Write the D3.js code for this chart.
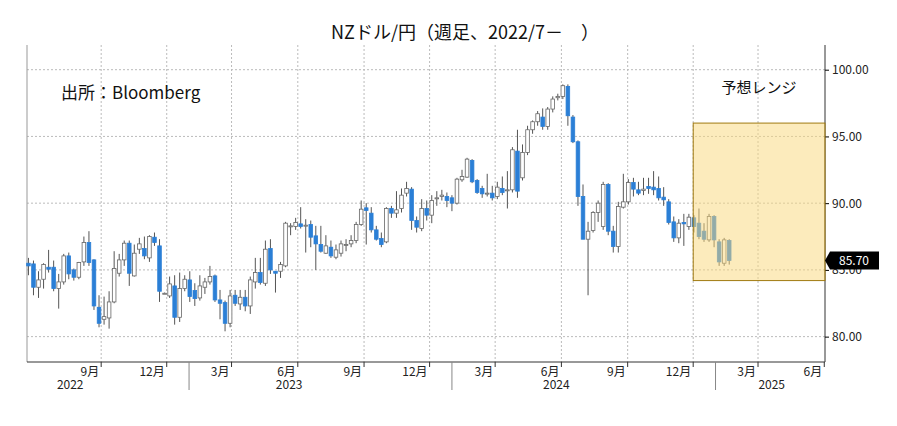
<!DOCTYPE html>
<html><head><meta charset="utf-8">
<script src="https://d3js.org/d3.v7.min.js"></script>
<style>body{margin:0;background:#fff}text{font-family:"Noto Sans CJK JP","Noto Sans",sans-serif}</style>
</head><body><svg id="c" width="897" height="426"></svg>
<script>
const firstWeek = "2022-05-23";
// weekly candles [open, high, low, close]
const candles = [
[85.5,85.9,84.6,85.3],[85.45,85.7,83.1,83.7],[83.7,84.9,82.9,84.25],[84.3,85.5,83.6,85.4],[85.2,86.5,84.8,85.05],
[85.2,85.7,83.4,83.6],[83.6,84.7,82.1,84.1],[84.1,86.2,83.9,86.05],[86.05,86.3,84.3,84.7],[85.0,85.1,84.2,84.45],
[84.45,85.6,84.3,85.55],[85.6,87.5,85.3,87.05],[87.05,87.9,85.3,85.55],[85.75,85.8,82.0,82.3],[82.2,83.1,80.7,81.0],
[81.3,83.0,80.9,81.5],[81.4,83.4,80.6,82.6],[82.6,86.4,82.5,85.1],[84.75,86.2,84.5,85.75],[85.75,87.2,85.3,87.0],
[87.0,87.2,83.8,84.75],[84.55,86.9,84.5,86.25],[86.55,87.4,86.2,86.95],[86.6,87.5,85.8,86.05],[85.9,87.6,85.6,87.5],
[87.45,87.8,86.8,87.05],[86.8,87.3,82.6,83.4],[83.25,83.3,83.2,83.25],[83.05,84.5,82.9,83.95],[83.8,84.6,80.9,81.45],
[81.45,84.8,81.1,83.6],[83.6,84.6,83.4,84.3],[84.25,84.9,82.6,83.0],[83.45,84.0,82.3,82.85],[82.9,84.6,82.7,83.8],
[83.7,84.4,83.2,84.1],[84.1,85.3,83.9,84.5],[84.55,84.65,82.6,82.75],[82.75,83.5,81.3,82.5],[82.55,82.7,80.4,81.0],
[81.0,83.5,80.7,83.05],[83.1,83.5,82.3,82.5],[82.45,83.5,82.0,82.95],[82.95,83.5,81.9,82.3],[82.3,84.5,81.7,84.25],
[84.1,85.9,83.6,84.8],[84.8,85.9,83.9,84.05],[84.0,87.2,83.8,86.55],[86.6,87.3,84.7,85.0],[84.9,84.9,83.3,84.75],
[84.9,85.6,84.4,85.4],[85.3,88.6,85.2,88.5],[88.3,88.5,87.6,88.3],[88.25,88.9,88.0,88.55],[88.45,89.7,88.1,88.25],
[88.35,88.8,86.3,88.35],[88.4,88.7,86.7,87.45],[87.55,88.3,85.0,86.95],[86.9,88.3,86.3,86.4],[86.25,87.6,86.2,86.8],
[86.7,87.2,85.9,86.05],[85.95,86.9,85.8,86.5],[86.25,87.2,86.0,86.95],[86.9,87.3,86.4,86.9],[86.95,87.6,86.7,87.2],
[87.2,88.6,87.0,88.4],[88.4,90.2,88.3,89.55],[89.65,90.0,86.9,89.45],[89.25,89.7,87.8,88.0],[88.0,88.3,87.2,87.3],
[87.35,87.8,86.7,86.9],[87.1,89.7,87.0,89.6],[89.6,89.8,88.9,89.25],[89.25,90.9,88.9,89.5],[89.6,91.1,89.3,90.6],
[90.75,91.6,90.5,91.1],[91.05,91.2,88.0,88.7],[88.7,89.0,87.8,88.2],[88.1,90.3,87.9,89.6],[89.6,90.2,88.7,89.1],
[89.1,90.6,88.5,90.2],[90.4,90.9,89.8,90.4],[90.5,91.0,90.2,90.6],[90.5,90.8,89.7,90.2],[90.4,90.6,89.4,90.0],
[90.0,91.9,89.9,91.8],[91.75,92.5,91.6,92.0],[91.95,93.4,91.9,93.3],[93.2,93.3,91.5,91.6],[91.7,91.8,90.7,90.8],
[91.1,91.3,90.4,90.7],[90.75,92.2,90.5,90.75],[90.75,91.3,90.2,90.4],[90.5,91.6,90.3,91.2],[91.1,92.0,90.6,90.8],
[91.0,92.4,89.6,91.0],[91.0,94.2,90.8,94.0],[93.9,95.5,90.4,90.9],[91.9,94.4,91.7,93.8],[93.8,95.8,93.6,95.5],
[95.5,96.2,95.2,96.1],[96.1,96.9,95.8,96.7],[96.45,97.1,95.5,95.75],[95.75,97.2,95.5,97.05],[97.05,98.0,96.8,97.8],
[97.9,98.2,97.7,98.0],[98.0,98.9,97.8,98.8],[98.75,98.9,95.8,96.55],[96.45,96.6,94.5,94.6],[94.6,94.7,89.8,90.5],
[90.5,91.4,87.3,87.3],[87.3,88.6,83.1,87.9],[87.95,89.4,87.8,89.3],[89.3,90.2,88.6,90.0],[88.25,91.6,88.0,91.4],
[91.4,91.5,87.6,87.9],[87.9,88.3,86.3,86.75],[86.75,90.1,86.3,89.75],[89.7,92.2,89.6,90.1],[90.1,91.8,89.9,91.55],
[91.55,91.9,90.5,91.05],[91.0,91.6,90.6,90.75],[90.95,91.9,90.6,91.05],[91.25,91.9,90.7,91.1],[91.2,92.4,90.6,91.0],
[91.1,92.0,90.2,90.4],[90.45,91.2,89.8,90.25],[90.1,90.3,88.4,88.55],[88.6,89.0,87.1,87.4],[87.4,88.8,87.0,88.5],
[88.55,89.2,86.8,88.45],[88.25,89.2,88.0,88.95],[88.9,89.1,87.8,88.25],[88.5,89.6,87.3,87.5],[87.9,88.5,87.1,87.3],
[87.25,89.2,87.1,89.0],[89.0,89.1,86.7,87.25],[87.1,87.3,85.3,85.6],[85.5,87.4,85.3,87.25],[87.2,87.3,85.4,85.7]
];
const yTicks = [80,85,90,95,100];
const monthTicks = ["2022-09-01","2022-12-01","2023-03-01","2023-06-01","2023-09-01","2023-12-01","2024-03-01","2024-06-01","2024-09-01","2024-12-01","2025-03-01","2025-06-01"];
const yearLabels = ["2022","2023","2024","2025"];
const rangeLow = 84.2, rangeHigh = 96.0;
const rangeStart = "2024-12-01";
const lastPrice = 85.70;

const P = d3.timeParse("%Y-%m-%d");
const svg = d3.select("#c");
const L=27,R=825,T=45,B=362;
const x = d3.scaleTime().domain([new Date(2022,4,21),new Date(2025,5,2)]).range([L,R]);
const y = d3.scaleLinear().domain([78.1,101.85]).range([B,T]);
const t0 = P(firstWeek);
const data = candles.map((c,i)=>({d:d3.timeDay.offset(t0,7*i),o:c[0],h:c[1],l:c[2],c:c[3]}));
const months = monthTicks.map(P);

svg.append("g").selectAll("line").data(months.filter(d=>x(d)<R-2)).join("line")
 .attr("x1",d=>x(d)).attr("x2",d=>x(d)).attr("y1",T).attr("y2",B)
 .attr("stroke","#bbb").attr("stroke-dasharray","2,2");
svg.append("g").selectAll("line").data(yTicks).join("line")
 .attr("x1",L).attr("x2",R).attr("y1",d=>y(d)).attr("y2",d=>y(d))
 .attr("stroke","#bbb").attr("stroke-dasharray","2,2");
svg.append("line").attr("x1",L).attr("x2",L).attr("y1",T).attr("y2",B).attr("stroke","#999");
svg.append("line").attr("x1",L).attr("x2",R).attr("y1",B).attr("y2",B).attr("stroke","#333");
const ya = d3.axisRight(y).tickValues(yTicks).tickFormat(d3.format(".2f")).tickSize(4);
const gy = svg.append("g").attr("transform",`translate(${R},0)`).call(ya);
gy.select(".domain").attr("d",`M0,${T}V${B}`).attr("stroke","#333");
gy.selectAll("text").attr("font-size",12).attr("fill","#222").attr("font-family","Noto Sans");
svg.append("g").selectAll("text").data(months).join("text")
 .attr("x",d=>x(d)-2).attr("y",B+14).attr("text-anchor","end").attr("font-size",12).attr("fill","#222")
 .text(d=>(d.getMonth()+1)+"月");
svg.append("g").selectAll("line").data(months).join("line")
 .attr("x1",d=>x(d)).attr("x2",d=>x(d)).attr("y1",B).attr("y2",B+5).attr("stroke","#333");
const yearBounds=[new Date(2023,0,1),new Date(2024,0,1),new Date(2025,0,1)];
svg.append("g").selectAll("line").data(yearBounds).join("line")
 .attr("x1",d=>x(d)).attr("x2",d=>x(d)).attr("y1",B).attr("y2",B+28).attr("stroke","#888");
const yearPos=[new Date(2022,6,20),new Date(2023,4,20),new Date(2024,4,25),new Date(2025,2,20)];
svg.append("g").selectAll("text").data(yearLabels).join("text")
 .attr("x",(d,i)=>x(yearPos[i])).attr("y",B+27).attr("text-anchor","middle").attr("font-size",12).attr("fill","#222")
 .attr("font-family","Noto Sans").text(d=>d);
const cw=3.6;
const g = svg.append("g");
g.selectAll("line").data(data).join("line")
 .attr("x1",d=>x(d.d)).attr("x2",d=>x(d.d)).attr("y1",d=>y(d.h)).attr("y2",d=>y(d.l)).attr("stroke","#555");
g.selectAll("rect").data(data).join("rect")
 .attr("x",d=>x(d.d)-cw/2).attr("width",cw)
 .attr("y",d=>y(Math.max(d.o,d.c))).attr("height",d=>Math.max(1,Math.abs(y(d.o)-y(d.c))))
 .attr("fill",d=>d.c>=d.o?"#fff":"#2b7fd6").attr("stroke",d=>d.c>=d.o?"#666":"#2b7fd6").attr("stroke-width",0.8);
svg.append("rect").attr("x",x(P(rangeStart))).attr("width",R-x(P(rangeStart)))
 .attr("y",y(rangeHigh)).attr("height",y(rangeLow)-y(rangeHigh))
 .attr("fill","#fad77a").attr("fill-opacity",0.5).attr("stroke","#a07a10").attr("stroke-width",1);
const ly=y(lastPrice);
svg.append("path").attr("d",`M${R},${ly} L${R+5},${ly-9} H${R+54} V${ly+9} H${R+5} Z`).attr("fill","#000");
svg.append("text").attr("x",R+29).attr("y",ly+4.5).attr("text-anchor","middle").attr("fill","#fff")
 .attr("font-size",12).attr("font-family","Noto Sans").text(lastPrice.toFixed(2));
svg.append("text").attr("x",465).attr("y",39).attr("text-anchor","middle").attr("font-size",18).attr("fill","#111").text("NZドル/円（週足、2022/7－　）");
svg.append("text").attr("x",61).attr("y",99).attr("font-size",17).attr("fill","#111").text("出所：Bloomberg");
svg.append("text").attr("x",759).attr("y",93).attr("text-anchor","middle").attr("font-size",15).attr("fill","#111").text("予想レンジ");
</script></body></html>
